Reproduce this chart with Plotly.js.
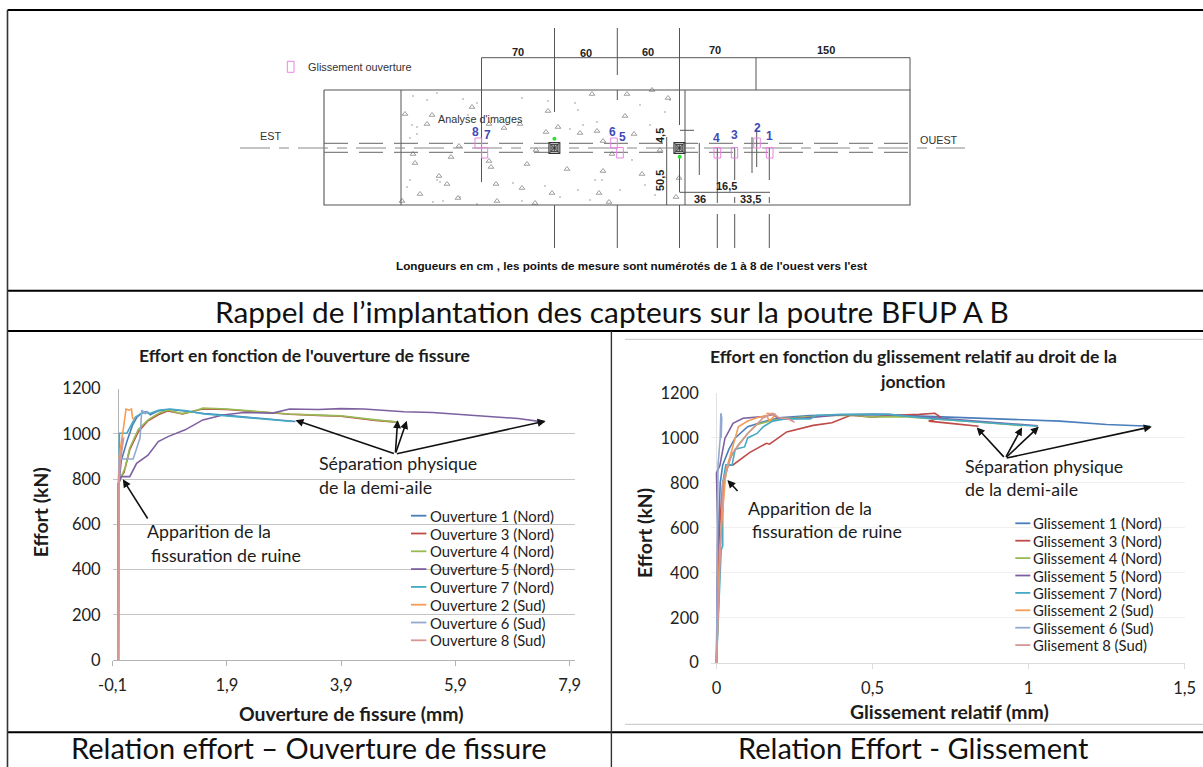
<!DOCTYPE html>
<html lang="fr"><head><meta charset="utf-8">
<script src="https://cdn.plot.ly/plotly-3.0.1.min.js"></script>
<style>html,body{margin:0;padding:0;background:#fff}#g{width:1203px;height:767px}</style>
</head><body><div id="g"></div>
<script>
// ---------- Left chart: effort (kN) vs crack opening (mm) ----------
const ouvNames = ['Ouverture 1 (Nord)','Ouverture 3 (Nord)','Ouverture 4 (Nord)','Ouverture 5 (Nord)','Ouverture 7 (Nord)','Ouverture 2 (Sud)','Ouverture 6 (Sud)','Ouverture 8 (Sud)'];
const ouv1X = [0,0.003,0.02,0.05,0.15,0.25,0.33,0.4,0.5,0.56,0.7,0.9,1.2,1.5,1.9,2.3,2.7,3.1];
const ouv1Y = [0,780,800,880,966,1040,1075,1090,1098,1085,1102,1108,1100,1090,1082,1072,1065,1055];
const ouv3X = [0,0.003,0.05,0.1,0.2,0.35,0.52,0.7,0.87,1.13,1.3,1.48,1.9,2.5,3,3.5,3.9,4.5,4.88];
const ouv3Y = [0,780,811,830,930,1010,1058,1085,1102,1088,1100,1110,1108,1095,1087,1082,1078,1060,1052];
const ouv4X = [0,0.003,0.05,0.12,0.2,0.35,0.52,0.7,0.87,1.1,1.3,1.48,1.9,2.5,3,3.5,3.9,4.5,4.9];
const ouv4Y = [0,780,811,850,938,1020,1062,1090,1106,1090,1098,1114,1110,1097,1088,1083,1080,1062,1052];
const ouv5X = [0,0.003,0.05,0.2,0.32,0.52,0.7,0.87,1.17,1.48,1.83,2.2,2.7,3,3.5,3.9,4.3,5,5.5,6,7,7.46];
const ouv5Y = [0,780,811,811,870,906,966,988,1018,1062,1084,1095,1092,1110,1108,1112,1110,1098,1095,1085,1068,1052];
const ouv7X = [0,0.003,0.02,0.15,0.3,0.45,0.55,0.7,0.9,1.2,1.5,1.9,2.3,2.7,3.05];
const ouv7Y = [0,780,1003,1003,1075,1098,1090,1105,1110,1102,1088,1080,1072,1062,1055];
const ouv2X = [0,0.003,0.01,0.09,0.135,0.19,0.23,0.25,0.28];
const ouv2Y = [0,780,893,1026,1110,1105,1110,1070,1062];
const ouv6X = [0,0.003,0.01,0.26,0.38,0.41,0.47,0.52];
const ouv6Y = [0,780,889,889,982,1105,1090,1100];
const ouv8X = [0,0.003,0.01,0.03,0.09];
const ouv8Y = [0,780,800,880,985];
const ouvTickVals = [-0.1,1.9,3.9,5.9,7.9];
const ouvTickText = ['-0,1','1,9','3,9','5,9','7,9'];

// ---------- Right chart: effort (kN) vs relative slip (mm) ----------
const gliNames = ['Glissement 1 (Nord)','Glissement 3 (Nord)','Glissement 4 (Nord)','Glissement 5 (Nord)','Glissement 7 (Nord)','Glissement 2 (Sud)','Glissement 6 (Sud)','Glisement 8 (Sud)'];
const gli1X = [0,0.005,0.012,0.02,0.04,0.06,0.1,0.15,0.2,0.3,0.5,0.7,0.9,1.1,1.25,1.39];
const gli1Y = [0,500,800,880,950,1000,1050,1072,1090,1100,1105,1095,1085,1075,1060,1052];
const gli3X = [0,0.01,0.02,0.037,0.053,0.107,0.16,0.17,0.225,0.31,0.37,0.43,0.5,0.55,0.65,0.7,0.72,0.68,0.75,0.84];
const gli3Y = [0,600,800,878,880,936,976,972,1027,1056,1068,1101,1092,1100,1105,1110,1090,1075,1065,1052];
const gli4X = [0,0.012,0.025,0.04,0.07,0.1,0.13,0.2,0.35,0.45,0.5,0.6,0.8,0.98];
const gli4Y = [0,500,800,900,970,1020,1060,1085,1100,1100,1093,1095,1075,1055];
const gli5X = [0,0.004,0,0.011,0.027,0.053,0.085,0.15,0.181,0.2,0.28,0.4,0.55,0.7,0.85,1.03];
const gli5Y = [0,600,843,878,998,1065,1088,1095,1105,1085,1088,1103,1105,1090,1072,1054];
const gli7X = [0,0.015,0.02,0.02,0.03,0.05,0.06,0.09,0.1,0.13,0.15,0.18,0.22,0.3,0.32,0.4,0.55,0.7,0.85,1.03];
const gli7Y = [0,500,520,800,880,880,950,960,1000,1020,1050,1075,1085,1085,1100,1105,1105,1085,1070,1052];
const gli2X = [0,0.01,0.03,0.05,0.07,0.1,0.13,0.16,0.17,0.19,0.16];
const gli2Y = [0,500,850,950,1050,1075,1090,1100,1075,1105,1110];
const gli6X = [0,0.003,0.005,0.012,0.014,0.017,0.015];
const gli6Y = [0,800,880,1000,1110,1090,1000];
const gli8X = [0,0.02,0.05,0.1,0.15,0.18,0.2,0.23,0.25];
const gli8Y = [0,800,930,1020,1090,1110,1090,1085,1070];

const lineColors = ['#4a7ebb','#be4b48','#98b954','#7d60a0','#46aac5','#f59d56','#93a9cf','#d79694'];

// ---------- Arrow tails and heads, in data units ----------
const sepOuvTail = [4.85,911];
const sepOuvHeads = [[3.1,1061],[4.89,1061],[5.05,1058],[7.48,1057]];
const appOuv = [0.53,619,0.08,799];
const sepGliTail = [0.925,909];
const sepGliHeads = [[0.834,1047],[0.979,1047],[1.033,1050],[1.395,1050]];
const appGli = [0.072,757,0.035,813];

// ---------- Beam diagram, in drawing units ----------
const beamOutline = [[324,90,910,205]];
const sensorRects = [[475,481.7,138,148],[481.7,487.7,147.5,158],[610.7,617.3,138,148],[616.7,623.3,147.5,158],[714,720.7,147.5,158],[731.3,737.7,147.5,158],[753.7,760.3,138,148],[766.3,773,147.5,158]];
const legendRect = [287.3,294,61.3,72.3];
const sensorLabels = [['8',475,132],['7',487,135],['6',612,132],['5',622,137],['4',716,138],['3',734,135],['2',757,128],['1',769,136]];
const dimLabels = [['70',518,52],['60',586,53],['60',648,52],['70',715,50],['150',826,50],['16,5',726,186],['36',700,199],['33,5',750,199]];
const dimLabelsRot = [['4,5',660,136],['50,5',660,181]];
const structSegs = [[401,90,401,205],[679.5,28,679.5,125],[685,90,685,205],[679.5,157,679.5,192],[679.5,205,679.5,248],
 [481.5,57.7,481.5,182],[554.5,28,554.5,112],[554.5,205,554.5,248],[617.3,28,617.3,75],[617.3,90,617.3,100],[617.3,205,617.3,248],
 [481.5,57.7,910,57.7],[756,57.7,756,90],[910,57.7,910,90],[679.5,192.3,770,192.3],[666.7,137,666.7,205],[680,130.3,694,130.3],
 [699.3,143,699.3,175],[717.3,147,717.3,203],[717.3,214,717.3,248],[734.7,147,734.7,180],[734.7,197,734.7,203],[734.7,214,734.7,248],
 [752,137,752,173],[756.7,128,756.7,167],[769.3,147,769.3,180],[769.3,197,769.3,203],[769.3,214,769.3,248]];
const aggregateX = [405,432,427,472,548,558,546,592,597,580,413,415,451,439,447,420,402,458,497,496,522,552,527,567,489,491,459,536,603,603,599,609,535,489,504,520,668,627,625,634,660,612,642,679,676,652];
const aggregateY = [114,115,124,107,111,127,132,94,131,133,154,163,157,176,184,194,201,198,201,184,188,193,164,169,161,167,146,150,141,171,193,202,203,124,128,124,98,94,116,134,150,154,174,178,197,90];
const speckX = [413,427,437,463,477,522,548,575,578,412,417,417,410,468,510,583,570,597,410,407,437,440,433,443,477,513,545,595,602,578,560,590,522,460,640,650,665,632,645,620,670,655];
const speckY = [96,100,93,99,103,98,101,103,110,125,127,134,138,115,117,125,129,122,180,187,180,182,202,201,204,183,186,180,180,190,197,200,201,197,105,125,112,160,185,190,100,195];
const jointX = [554.4,679.4];
const jointY = [148,148];
const greenX = [554.4,679.7];
const greenY = [138.7,156.7];

const captions = [
 ['Rappel de l’implantation des capteurs sur la poutre BFUP A B',612,311.5,29.8],
 ['Relation effort – Ouverture de fissure',309,747.5,29],
 ['Relation Effort - Glissement',913,747.5,29]];
const axisTitles = [
 ['Ouverture de fissure (mm)',351.5,713,0],
 ['Effort (kN)',40.6,512.7,-90],
 ['Glissement relatif (mm)',949.6,711,0],
 ['Effort (kN)',644,533,-90]];

// ---------- Helpers ----------
const W=1203,H=767;
const px=x=>x/W, py=y=>1-y/H;
const SANS='Lato, "Liberation Sans", sans-serif';
const ARIAL='"Liberation Sans", Arial, sans-serif';
const INK='#1c1c1c';
const geoms={
  left:{xa:'x',ya:'y',l:112.6,r:575.3,xr:[-0.1,8],b:660,t:388.7},
  right:{xa:'x2',ya:'y2',l:710.8,r:1184.6,xr:[-0.0182,1.5],b:662.7,t:393}
};
function paperText(text,x,y,size,opts={}){
  return Object.assign({xref:'paper',yref:'paper',x:px(x),y:py(y),text,showarrow:false,xanchor:'left',yanchor:'middle',
    font:{family:SANS,size,color:INK},bgcolor:'rgba(0,0,0,0)',borderpad:0},opts);
}
function arrow(xa,ya,tx,ty,hx,hy,w){
  return {xref:xa,yref:ya,axref:xa,ayref:ya,x:hx,y:hy,ax:tx,ay:ty,text:'',showarrow:true,arrowhead:2,arrowsize:1,arrowwidth:w||1.6,arrowcolor:'#111'};
}
// White box sitting between the gridlines and the curves of one chart
function whiteBox(g,x0,y0,x1,y1){
  const dx=v=>g.xr[0]+(v-g.l)/(g.r-g.l)*(g.xr[1]-g.xr[0]);
  const dy=v=>(g.b-v)/(g.b-g.t)*1200;
  return {type:'rect',xref:g.xa,yref:g.ya,x0:dx(x0),x1:dx(x1),y0:dy(y0),y1:dy(y1),layer:'below',fillcolor:'#fff',line:{width:0}};
}
function paperLine(x0,y0,x1,y1,color,width){
  return {type:'line',xref:'paper',yref:'paper',x0:px(x0),x1:px(x1),y0:py(y0),y1:py(y1),layer:'above',line:{color,width}};
}
function segTrace(segs,color,width,dash){
  const x=[],y=[];
  segs.forEach(s=>{x.push(s[0],s[2],null);y.push(s[1],s[3],null);});
  return {x,y,xaxis:'x3',yaxis:'y3',mode:'lines',line:{color,width,dash:dash||'solid'},hoverinfo:'skip',showlegend:false};
}
function rectTrace(rects,color,width){
  const x=[],y=[];
  rects.forEach(r=>{x.push(r[0],r[1],r[1],r[0],r[0],null);y.push(r[2],r[2],r[3],r[3],r[2],null);});
  return {x,y,xaxis:'x3',yaxis:'y3',mode:'lines',line:{color,width},hoverinfo:'skip',showlegend:false};
}

// ---------- Traces ----------
const data=[];
[[ouv1X,ouv1Y],[ouv3X,ouv3Y],[ouv4X,ouv4Y],[ouv5X,ouv5Y],[ouv7X,ouv7Y],[ouv2X,ouv2Y],[ouv6X,ouv6Y],[ouv8X,ouv8Y]].forEach((s,i)=>
  data.push({x:s[0],y:s[1],name:ouvNames[i],mode:'lines',line:{color:lineColors[i],width:i===7?2.2:1.6},showlegend:false,xaxis:'x',yaxis:'y'}));
[[gli1X,gli1Y],[gli3X,gli3Y],[gli4X,gli4Y],[gli5X,gli5Y],[gli7X,gli7Y],[gli2X,gli2Y],[gli6X,gli6Y],[gli8X,gli8Y]].forEach((s,i)=>
  data.push({x:s[0],y:s[1],name:gliNames[i],mode:'lines',line:{color:lineColors[i],width:1.6},showlegend:false,xaxis:'x2',yaxis:'y2'}));

const DG='#555';
const beam=beamOutline[0];
data.push({x:aggregateX,y:aggregateY,xaxis:'x3',yaxis:'y3',mode:'markers',marker:{symbol:'triangle-up-open',size:5,color:'#777',line:{width:0.7,color:'#777'}},hoverinfo:'skip',showlegend:false});
data.push({x:speckX,y:speckY,xaxis:'x3',yaxis:'y3',mode:'markers',marker:{symbol:'circle',size:1.4,color:'#777'},hoverinfo:'skip',showlegend:false});
data.push(rectTrace([[beam[0],beam[2],beam[1],beam[3]]],DG,1.1));
data.push(segTrace(structSegs,DG,1));
data.push(segTrace([[240,148,965,148]],'#888',1,'30px,9px,10px,9px'));
data.push(segTrace([[324,143.3,910,143.3],[324,152.3,910,152.3]],'#666',1,'24px,11px'));
data.push({x:jointX,y:jointY,xaxis:'x3',yaxis:'y3',mode:'markers',marker:{symbol:'square-x',size:11,color:'#bbb',line:{width:1,color:'#333'}},hoverinfo:'skip',showlegend:false});
data.push({x:jointX,y:jointY,xaxis:'x3',yaxis:'y3',mode:'markers',marker:{symbol:'square-cross-open',size:7,color:'#333',line:{width:0.8,color:'#333'}},hoverinfo:'skip',showlegend:false});
data.push({x:greenX,y:greenY,xaxis:'x3',yaxis:'y3',mode:'markers',marker:{symbol:'circle',size:4,color:'#2fe02f'},hoverinfo:'skip',showlegend:false});
data.push(rectTrace(sensorRects,'#ec80e6',1));
data.push(rectTrace([legendRect],'#ec80e6',1));

// ---------- Annotations ----------
const ann=[];
captions.forEach(c=>ann.push(paperText(c[0],c[1],c[2],c[3],{xanchor:'center',font:{family:SANS,size:c[3],color:'#111'}})));
const bold=(t,x,y,s,o)=>paperText('<b>'+t+'</b>',x,y,s,Object.assign({xanchor:'center'},o||{}));
ann.push(bold("Effort en fonction de l'ouverture de fissure",304.6,355,17.6));
ann.push(bold('Effort en fonction du glissement relatif au droit de la',913,357,17.6));
ann.push(bold('jonction',912,381,17.6));
axisTitles.forEach(t=>ann.push(bold(t[0],t[1],t[2],19.4,{textangle:t[3]})));

[['Séparation physique',318,463.3],['de la demi-aile',318,486.7],['Apparition de la',146,531],['fissuration de ruine',149.7,555],
 ['Séparation physique',963.7,465.7],['de la demi-aile',963.7,489],['Apparition de la',747.3,507.7],['fissuration de ruine',751,531]]
 .forEach(t=>ann.push(paperText(t[0],t[1],t[2],17.8)));

sepOuvHeads.forEach(h=>ann.push(arrow('x','y',sepOuvTail[0],sepOuvTail[1],h[0],h[1])));
ann.push(arrow('x','y',appOuv[0],appOuv[1],appOuv[2],appOuv[3]));
sepGliHeads.forEach(h=>ann.push(arrow('x2','y2',sepGliTail[0],sepGliTail[1],h[0],h[1])));
ann.push(arrow('x2','y2',appGli[0],appGli[1],appGli[2],appGli[3]));

const shapes=[];
function manualLegend(names,swX0,swX1,txtX,y0,step,size){
  names.forEach((n,i)=>{
    const y=y0+i*step;
    shapes.push(paperLine(swX0,y,swX1,y,lineColors[i],1.8));
    ann.push(paperText(n,txtX,y,size));
  });
}
manualLegend(ouvNames,411,426.4,429,515.7,17.8,14.8);
manualLegend(gliNames,1015.3,1030.3,1032.2,523.3,17.4,14.8);

// Diagram text
const d3=(t,x,y,size,o)=>Object.assign({xref:'x3',yref:'y3',x,y,text:t,showarrow:false,xanchor:'center',yanchor:'middle',font:{family:ARIAL,size,color:'#333'}},o||{});
ann.push(d3('Glissement ouverture',306,67.3,10.9,{xanchor:'left'}));
ann.push(d3('EST',270.5,136,10.8));
ann.push(d3('OUEST',938.5,140,10.8));
ann.push(d3("Analyse d'images",480.5,119,10.8));
ann.push(d3("<b>Longueurs en cm , les points de mesure sont numérotés de 1 à 8 de l'ouest vers l'est</b>",631,265,10,{font:{family:ARIAL,size:11.7,color:'#111'}}));
sensorLabels.forEach(l=>ann.push(d3('<b>'+l[0]+'</b>',l[1],l[2],12,{font:{family:ARIAL,size:12,color:'#4049b8'}})));
dimLabels.forEach(l=>ann.push(d3('<b>'+l[0]+'</b>',l[1],l[2],11,{font:{family:ARIAL,size:11,color:'#222'}})));
dimLabelsRot.forEach(l=>ann.push(d3('<b>'+l[0]+'</b>',l[1],l[2],11,{textangle:-90,font:{family:ARIAL,size:11,color:'#222'}})));

// Table frame
shapes.push(paperLine(0+7.5,10,W,10,'#000',2));
shapes.push(paperLine(7.5,290.7,W,290.7,'#000',2));
shapes.push(paperLine(7.5,331,W,331,'#000',2));
shapes.push(paperLine(7.5,732.3,W,732.3,'#000',2));
shapes.push(paperLine(7.5,10,7.5,H,'#333',1.6));
shapes.push(paperLine(611.4,331,611.4,H,'#333',1.4));
shapes.push(paperLine(625,339.3,W,339.3,'#c4c4c4',1));
shapes.push(paperLine(625,724.3,W,724.3,'#c4c4c4',1));

// White boxes behind chart text and legends, above the gridlines
shapes.push(whiteBox(geoms.left,394.6,506.7,565,650),whiteBox(geoms.left,308.5,455,481.5,496.7),whiteBox(geoms.left,140,520,309.7,571.7));
shapes.push(whiteBox(geoms.right,1010.8,516.7,1165,653),whiteBox(geoms.right,960,458,1125.5,496.7),whiteBox(geoms.right,741.7,500,903.5,540));

// ---------- Layout ----------
const tickFont={family:SANS,size:16.5,color:'#222'};
const layout={
  width:W,height:H,margin:{l:0,r:0,t:0,b:0},paper_bgcolor:'#fff',plot_bgcolor:'rgba(0,0,0,0)',showlegend:false,separators:', ',hovermode:false,
  xaxis:{domain:[px(112.6),px(575.3)],range:[-0.1,8],tickmode:'array',tickvals:ouvTickVals,ticktext:ouvTickText,anchor:'y',showgrid:false,zeroline:true,zerolinecolor:'#b4b4b4',zerolinewidth:1,
    showline:true,linecolor:'#b4b4b4',ticks:'outside',ticklen:5,tickcolor:'#b4b4b4',tickfont:tickFont,ticklabelstandoff:5},
  yaxis:{domain:[py(660),py(388.7)],range:[0,1200],dtick:200,anchor:'x',gridcolor:'#c4c4c4',gridwidth:1,zeroline:false,showline:false,ticks:'',tickfont:tickFont,ticklabelstandoff:11,tickformat:'d'},
  xaxis2:{domain:[px(710.8),px(1184.6)],range:[-0.0182,1.5],tick0:0,dtick:0.5,anchor:'y2',showgrid:false,zeroline:true,zerolinecolor:'#e2e2e2',zerolinewidth:1,
    showline:true,linecolor:'#dcdcdc',ticks:'outside',ticklen:5,tickcolor:'#dcdcdc',tickfont:tickFont,ticklabelstandoff:5},
  yaxis2:{domain:[py(662.7),py(393)],range:[0,1200],dtick:200,anchor:'x2',gridcolor:'#efefef',gridwidth:1,zeroline:false,showline:false,ticks:'',tickfont:tickFont,ticklabelstandoff:11,tickformat:'d'},
  xaxis3:{domain:[px(9),1],range:[9,W],visible:false,fixedrange:true,anchor:'y3'},
  yaxis3:{domain:[py(289),py(12)],range:[289,12],visible:false,fixedrange:true,anchor:'x3'},
  annotations:ann,shapes:shapes
};
Plotly.newPlot('g',data,layout,{displayModeBar:false,staticPlot:true});
</script></body></html>
